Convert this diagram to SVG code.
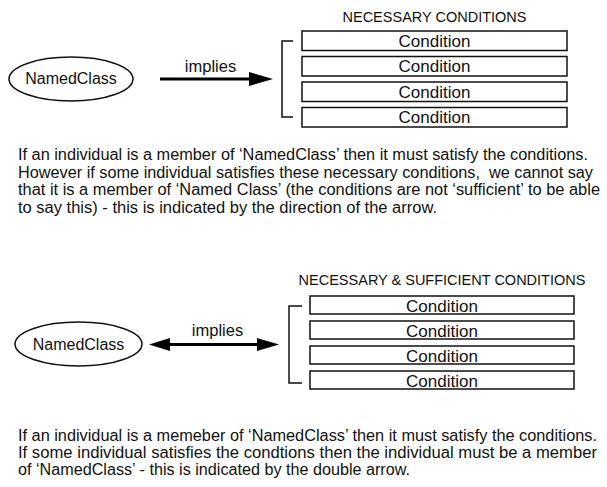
<svg xmlns="http://www.w3.org/2000/svg" width="607" height="487" viewBox="0 0 607 487">
<style>
text{font-family:"Liberation Sans",Arial,sans-serif;fill:#111}
.cls{font-size:16px;text-anchor:middle}
.lbl{font-size:16.5px;text-anchor:middle}
.hdr{font-size:14.5px;text-anchor:middle}
.cond{font-size:17px;text-anchor:middle}
.para{font-size:16px}
.box{fill:#fff;stroke:#111;stroke-width:1.5}
.ell{fill:#fff;stroke:#111;stroke-width:1.5}
.brk{fill:none;stroke:#111;stroke-width:1.5}
.arr{stroke:#000;stroke-width:3;fill:none}
.head{fill:#000}
</style>
<g id="namedclass1"><ellipse class="ell" cx="71" cy="79" rx="62" ry="22"/><text class="cls" x="71" y="84">NamedClass</text></g>
<g id="necessary">
<text class="hdr" x="434.5" y="22">NECESSARY CONDITIONS</text>
<path class="brk" d="M293,41 H282 V117 H293"/>
<rect class="box" x="302" y="31" width="265" height="19.5"/><text class="cond" x="434.5" y="46.5">Condition</text>
<rect class="box" x="302" y="56.5" width="265" height="19.5"/><text class="cond" x="434.5" y="72">Condition</text>
<rect class="box" x="302" y="82" width="265" height="19.5"/><text class="cond" x="434.5" y="97.5">Condition</text>
<rect class="box" x="302" y="107.5" width="265" height="19.5"/><text class="cond" x="434.5" y="123">Condition</text>
</g>
<g id="namedclass2"><ellipse class="ell" cx="78.5" cy="344" rx="63.5" ry="22"/><text class="cls" x="78.5" y="349.5">NamedClass</text></g>
<g id="necsuff">
<text class="hdr" x="442" y="285">NECESSARY &amp; SUFFICIENT CONDITIONS</text>
<path class="brk" d="M302,306 H289 V383 H302"/>
<rect class="box" x="310" y="296" width="264" height="18"/><text class="cond" x="442" y="311.5">Condition</text>
<rect class="box" x="310" y="321" width="264" height="18"/><text class="cond" x="442" y="336.5">Condition</text>
<rect class="box" x="310" y="346" width="264" height="18"/><text class="cond" x="442" y="361.5">Condition</text>
<rect class="box" x="310" y="371" width="264" height="18"/><text class="cond" x="442" y="386.5">Condition</text>
</g>
<g id="connectors">
<line class="arr" x1="160" y1="79" x2="250" y2="79"/>
<polygon class="head" points="249,72 273,79 249,86"/>
<text class="lbl" x="210.5" y="72">implies</text>
<line class="arr" x1="166" y1="344.5" x2="260" y2="344.5"/>
<polygon class="head" points="170,338 149,344.5 170,351"/>
<polygon class="head" points="257,338 279,344.5 257,351"/>
<text class="lbl" x="217.5" y="336">implies</text>
</g>
<g id="para1">
<text class="para" x="18" y="160" textLength="570" lengthAdjust="spacingAndGlyphs">If an individual is a member of ‘NamedClass’ then it must satisfy the conditions.</text>
<text class="para" x="18" y="177.7" textLength="575" lengthAdjust="spacingAndGlyphs">However if some individual satisfies these necessary conditions,&#160; we cannot say</text>
<text class="para" x="18" y="195.4" textLength="582" lengthAdjust="spacingAndGlyphs">that it is a member of ‘Named Class’ (the conditions are not ‘sufficient’ to be able</text>
<text class="para" x="18" y="213.1" textLength="419" lengthAdjust="spacingAndGlyphs">to say this) - this is indicated by the direction of the arrow.</text>
</g>
<g id="para2">
<text class="para" x="18" y="441" textLength="579" lengthAdjust="spacingAndGlyphs">If an individual is a memeber of ‘NamedClass’ then it must satisfy the conditions.</text>
<text class="para" x="18" y="458" textLength="579" lengthAdjust="spacingAndGlyphs">If some individual satisfies the condtions then the individual must be a member</text>
<text class="para" x="18" y="475" textLength="392" lengthAdjust="spacingAndGlyphs">of ‘NamedClass’ - this is indicated by the double arrow.</text>
</g>
</svg>
